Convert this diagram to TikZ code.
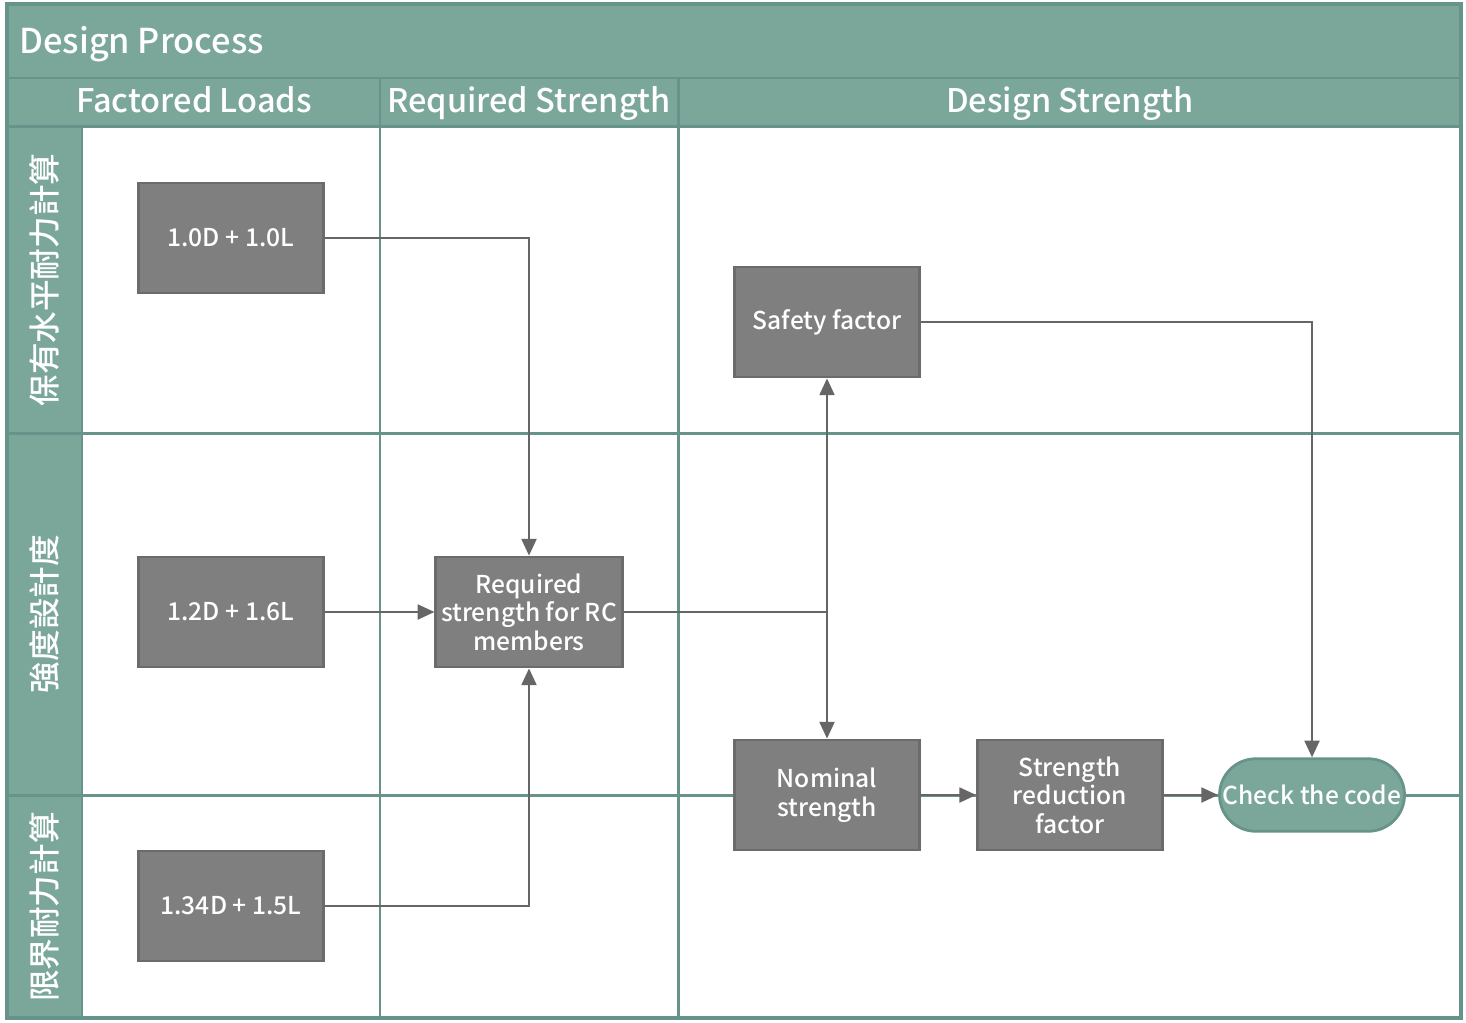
\documentclass[tikz,border=0pt]{standalone}
\usepackage{fontspec}
\setmainfont{Noto Sans CJK TC Medium}
\usepackage{xcolor}
\definecolor{lane-fill}{HTML}{7BA79B}
\definecolor{lane-edge}{HTML}{66948A}
\definecolor{step-fill}{HTML}{7F7F7F}
\definecolor{step-edge}{HTML}{6B6B6B}
\definecolor{flow-line}{HTML}{666666}
\usepackage{tikz}
\usetikzlibrary{arrows.meta,shapes.misc}

\tikzset{
    stepbox/.style={draw=step-edge, fill=step-fill, line width=1.6pt, text=white,
        minimum width=3.7cm, minimum height=2.2cm, align=center, inner xsep=3pt,
        font=\fontsize{14}{16.2}\selectfont},
    endbox/.style={rounded rectangle, draw=lane-edge, fill=lane-fill, line width=1.6pt, text=white,
        minimum width=3.7cm, minimum height=1.45cm, inner xsep=0pt,
        font=\fontsize{14}{16.2}\selectfont},
    headtext/.style={text=white, font=\fontsize{18.5}{20}\selectfont},
    lanetext/.style={text=white, rotate=90, font=\fontsize{18}{20}\selectfont},
    flow/.style={draw=flow-line, line width=1.2pt, -{Triangle[length=9.5pt, width=8.5pt]}},
    plain/.style={draw=flow-line, line width=1.2pt}
}

\begin{document}
\begin{tikzpicture}[x=0.02cm, y=-0.02cm]

    \useasboundingbox (0, 0) rectangle (1466, 1022);

    % Background
    \fill[white] (7, 4) rectangle (1461, 1018);
    \fill[lane-fill] (7, 4) rectangle (1461, 126);
    \fill[lane-fill] (7, 126) rectangle (82, 1018);

    % Lanes
    \draw[lane-edge, line width=1.7pt] (7, 78) -- (1461, 78);
    \draw[lane-edge, line width=1.7pt] (7, 126) -- (1461, 126);
    \draw[lane-edge, line width=1.7pt] (7, 433) -- (1461, 433);
    \draw[lane-edge, line width=1.7pt] (7, 795) -- (1461, 795);
    \draw[lane-edge, line width=1.7pt] (82, 126) -- (82, 1018);
    \draw[lane-edge, line width=1.7pt] (380, 78) -- (380, 1018);
    \draw[lane-edge, line width=1.7pt] (678, 78) -- (678, 1018);
    \draw[lane-edge, line width=2.2pt] (7, 4) rectangle (1461, 1018);

    % Headers
    \node[headtext, anchor=base west, inner xsep=0pt, font=\fontsize{19.5}{21}\selectfont] (title) at (19, 53) {Design Process};
    \node[headtext, anchor=base] (loads) at (194, 112) {Factored Loads};
    \node[headtext, anchor=base] (required) at (529, 112) {Required Strength};
    \node[headtext, anchor=base] (design) at (1070, 112) {Design Strength};
    \node[lanetext] (lane1) at (44, 280) {保有水平耐力計算};
    \node[lanetext] (lane2) at (44, 614) {強度設計度};
    \node[lanetext] (lane3) at (44, 907) {限界耐力計算};

    % Steps
    \node[stepbox] (load1) at (231, 238) {1.0D + 1.0L};
    \node[stepbox] (load2) at (231, 612) {1.2D + 1.6L};
    \node[stepbox] (load3) at (231, 906) {1.34D + 1.5L};
    \node[stepbox] (req) at (529, 612) {Required\\strength for RC\\members};
    \node[stepbox] (safety) at (827, 322) {Safety factor};
    \node[stepbox] (nominal) at (827, 795) {Nominal\\strength};
    \node[stepbox] (reduction) at (1070, 795) {Strength\\reduction\\factor};
    \node[endbox] (check) at (1312, 795) {Check the code};

    % Flow
    \draw[flow] (load1.east) -| (req.north);
    \draw[flow] (load3.east) -| (req.south);
    \draw[flow] (load2) -- (req);
    \coordinate (split) at (safety.south |- req.east);
    \draw[plain] (req.east) -- (split);
    \draw[flow] (split) -- (safety.south);
    \draw[flow] (split) -- (nominal.north);
    \draw[flow] (safety.east) -| (check.north);
    \draw[flow] (nominal) -- (reduction);
    \draw[flow] (reduction) -- (check);

\end{tikzpicture}
\end{document}
